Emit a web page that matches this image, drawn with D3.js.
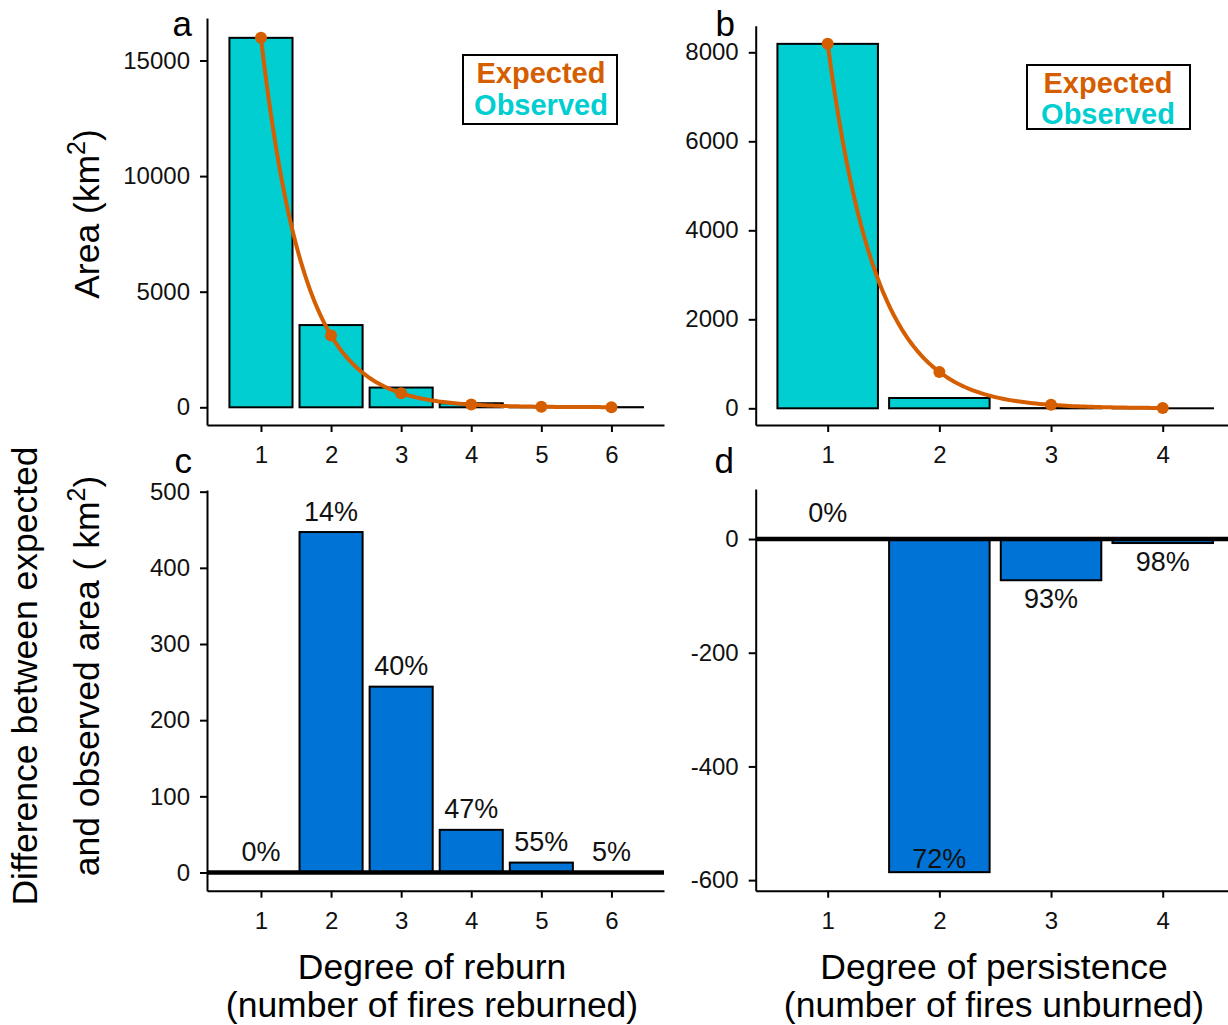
<!DOCTYPE html>
<html><head><meta charset="utf-8">
<script src="https://cdn.jsdelivr.net/npm/d3@7"></script>
<style>body{margin:0;background:#fff}svg text{font-family:"Liberation Sans",Arial,sans-serif}</style>
</head><body>
<svg id="chart" width="1228" height="1025"></svg>
<script>
// ---------- data ----------
const reburnDegree = [1, 2, 3, 4, 5, 6];
const reburnObserved = [15980, 3557, 854, 175, 37, 6.3];
const reburnExpected = [15980, 3110, 610, 119, 24, 6];
const reburnDiff = [0, 447, 244, 56, 13, 0.3];
const reburnPct = ["0%", "14%", "40%", "47%", "55%", "5%"];

const persistDegree = [1, 2, 3, 4];
const persistObserved = [8190, 232, 5.5, 0.15];
const persistExpected = [8190, 818, 78, 7.2];
const persistDiff = [0, -586, -72.5, -7.05];
const persistPct = ["0%", "72%", "93%", "98%"];

const ticksA = [0, 5000, 10000, 15000];
const ticksB = [0, 2000, 4000, 6000, 8000];
const ticksC = [0, 100, 200, 300, 400, 500];
const ticksD = [-600, -400, -200, 0];

const CYAN = "#00CED1", ORANGE = "#D55E00", BLUE = "#0074D6";

const svg = d3.select("#chart");
const fmt = d => String(d);

function axes(g, x, y, xt, yt) {
  const ax = g.append("g").attr("transform", `translate(0,${y.range()[0]})`)
    .call(d3.axisBottom(x).tickValues(xt).tickSize(7).tickSizeOuter(0).tickPadding(14).tickFormat(fmt));
  const ay = g.append("g").attr("transform", `translate(${x.range()[0]},0)`)
    .call(d3.axisLeft(y).tickValues(yt).tickSize(7).tickSizeOuter(0).tickPadding(10).tickFormat(fmt));
  [ax, ay].forEach(a => {
    a.selectAll("path,line").attr("stroke", "#000").attr("stroke-width", 2);
    a.selectAll("text").attr("font-size", 24).attr("fill", "#111");
  });
}

function letter(t, x, y) {
  svg.append("text").attr("x", x).attr("y", y).attr("text-anchor", "end")
    .attr("font-size", 35).text(t);
}

function legend(cx, x0, x1, y0, y1, b1, b2) {
  svg.append("rect").attr("x", x0).attr("y", y0).attr("width", x1 - x0).attr("height", y1 - y0)
    .attr("fill", "#fff").attr("stroke", "#000").attr("stroke-width", 2);
  svg.append("text").attr("x", cx).attr("y", b1).attr("text-anchor", "middle")
    .attr("font-size", 29).attr("font-weight", "bold").attr("fill", ORANGE).text("Expected");
  svg.append("text").attr("x", cx).attr("y", b2).attr("text-anchor", "middle")
    .attr("font-size", 29).attr("font-weight", "bold").attr("fill", CYAN).text("Observed");
}

// smooth exponential-looking path through the expected points (log-linear between points)
function expPath(degrees, exp, x, y) {
  const pts = [];
  for (let i = 0; i < degrees.length - 1; i++) {
    const a = Math.log(exp[i]), b = Math.log(exp[i + 1]);
    for (let k = 0; k < 30; k++) {
      const t = k / 30;
      const d = degrees[i] + t * (degrees[i + 1] - degrees[i]);
      pts.push([x(d), y(Math.exp(a + t * (b - a)))]);
    }
  }
  pts.push([x(degrees[degrees.length - 1]), y(exp[exp.length - 1])]);
  return d3.line()(pts);
}

function areaPanel(degrees, obs, exp, x, y, yt) {
  const g = svg.append("g");
  g.selectAll("rect.bar").data(degrees).join("rect").attr("class", "bar")
    .attr("x", d => x(d - 0.45)).attr("width", d => x(d + 0.45) - x(d - 0.45))
    .attr("y", (d, i) => y(obs[i])).attr("height", (d, i) => y(0) - y(obs[i]))
    .attr("fill", CYAN).attr("stroke", "#000").attr("stroke-width", 2);
  axes(g, x, y, degrees, yt);
  g.append("path").attr("d", expPath(degrees, exp, x, y)).attr("fill", "none")
    .attr("stroke", ORANGE).attr("stroke-width", 4).attr("stroke-linejoin", "round");
  g.selectAll("circle").data(exp).join("circle")
    .attr("cx", (d, i) => x(degrees[i])).attr("cy", d => y(d)).attr("r", 6).attr("fill", ORANGE);
}

function diffPanel(degrees, diff, pct, x, y, yt, labelPos) {
  const g = svg.append("g");
  g.selectAll("rect.bar").data(degrees).join("rect").attr("class", "bar")
    .attr("x", d => x(d - 0.45)).attr("width", d => x(d + 0.45) - x(d - 0.45))
    .attr("y", (d, i) => Math.min(y(diff[i]), y(0)))
    .attr("height", (d, i) => Math.abs(y(0) - y(diff[i])))
    .attr("fill", BLUE).attr("stroke", "#000").attr("stroke-width", 2);
  axes(g, x, y, degrees, yt);
  g.append("line").attr("x1", x.range()[0]).attr("x2", x.range()[1])
    .attr("y1", y(0)).attr("y2", y(0)).attr("stroke", "#000").attr("stroke-width", 4.5);
  g.selectAll("text.pct").data(degrees).join("text").attr("class", "pct")
    .attr("x", d => x(d)).attr("y", (d, i) => labelPos(diff[i]))
    .attr("text-anchor", "middle").attr("font-size", 27).attr("fill", "#111")
    .text((d, i) => pct[i]);
}

// ---------- scales ----------
const xA = d3.scaleLinear().domain([0.23, 6.75]).range([207, 664]);
const yA = d3.scaleLinear().domain([-765.6, 16838]).range([425, 18]);
const xB = d3.scaleLinear().domain([0.3554, 4.5846]).range([755.7, 1228]);
const yB = d3.scaleLinear().domain([-375, 8598]).range([425, 25.7]);
const xC = d3.scaleLinear().domain([0.23, 6.75]).range([207, 664]);
const yC = d3.scaleLinear().domain([-23.9, 502.2]).range([890.7, 490]);
const xD = d3.scaleLinear().domain([0.3554, 4.5846]).range([755.7, 1228]);
const yD = d3.scaleLinear().domain([-618.6, 88]).range([890.7, 489]);

areaPanel(reburnDegree, reburnObserved, reburnExpected, xA, yA, ticksA);
areaPanel(persistDegree, persistObserved, persistExpected, xB, yB, ticksB);
legend(541, 463, 617, 55, 124, 83, 115);
legend(1108, 1027, 1190, 65, 129, 93, 124);

diffPanel(reburnDegree, reburnDiff, reburnPct, xC, yC, ticksC, v => yC(v) - 11.5);
diffPanel(persistDegree, persistDiff, persistPct, xD, yD, ticksD,
  v => v >= 0 ? yD(v) - 17 : Math.min(yD(v) + 28, 868));

letter("a", 192, 36); letter("b", 735, 36); letter("c", 192, 473); letter("d", 734, 473);

// ---------- axis titles ----------
function title(x, y, parts, rotate) {
  const t = svg.append("text").attr("text-anchor", "middle").attr("font-size", 35.5).attr("fill", "#000")
    .attr("transform", `translate(${x},${y})` + (rotate ? " rotate(-90)" : ""));
  parts.forEach(p => {
    const s = t.append("tspan").text(p.t);
    if (p.sup) s.attr("font-size", 25).attr("dy", -14);
    if (p.down) s.attr("dy", 14);
  });
}
title(99, 214, [{t: "Area (km"}, {t: "2", sup: true}, {t: ")", down: true}], true);
title(37, 676, [{t: "Difference between expected"}], true);
title(99, 676, [{t: "and observed area ( km"}, {t: "2", sup: true}, {t: ")", down: true}], true);
title(432, 979, [{t: "Degree of reburn"}], false);
title(432, 1017, [{t: "(number of fires reburned)"}], false);
title(994, 979, [{t: "Degree of persistence"}], false);
title(994, 1017, [{t: "(number of fires unburned)"}], false);
</script>
</body></html>
